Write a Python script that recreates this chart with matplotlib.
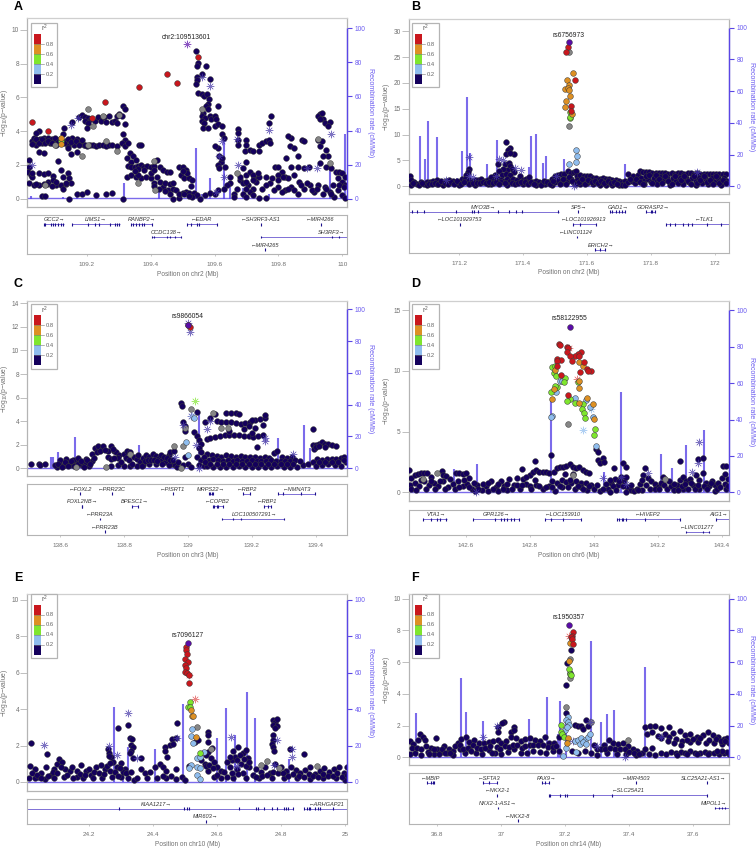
import matplotlib
matplotlib.use('Agg')
import matplotlib.pyplot as plt
from matplotlib.patches import Rectangle

plt.rcParams['font.family'] = ['Liberation Sans', 'DejaVu Sans']
plt.rcParams['mathtext.default'] = 'regular'

W, H = 756, 851
NAVY = '#14005c'
GREY_PT = '#868686'
RED = '#c9171d'
ORANGE = '#dd9024'
GREEN = '#7fe62e'
BLUE = '#8fbdee'
PURPLE = '#5a0ca8'
RECOMB = '#5a46e6'
AXIS_GREY = '#b4b4b4'
TEXT_GREY = '#707070'

# ---------- panel A ----------
A_TICKS = [109.2, 109.4, 109.6, 109.8, 110]
A_TICKLABELS = ['109.2', '109.4', '109.6', '109.8', '110']
A_YTICKS = [0, 2, 4, 6, 8, 10]
A_NAVY = [
    (109.543,8.75),(109.549,8.05),(109.546,7.85),(109.573,7.85),(109.546,7.2),(109.56,7.35),(109.585,7.1),(109.545,7.0),
    (109.543,6.8),(109.549,6.25),(109.56,6.2),(109.567,6.1),(109.575,6.2),(109.583,5.9),(109.58,5.6),(109.574,5.5),
    (109.58,5.3),(109.612,5.5),(109.565,5.1),(109.56,4.9),(109.57,4.8),(109.56,4.6),(109.568,4.5),(109.585,4.9),
    (109.59,4.7),(109.6,4.9),(109.605,4.7),(109.565,4.2),(109.58,4.2),(109.6,4.3),(109.61,4.4),(109.623,4.3),
    (109.625,3.8),(109.63,3.6),(109.61,3.0),(109.6,3.1),(109.615,2.5),(109.62,2.2),(109.625,2.4),(109.61,2.0),
    (109.615,1.8),(109.632,1.9),(109.65,1.3),(109.65,0.9),(109.64,0.8),(109.63,0.6),(109.66,0.3),(109.675,4.15),
    (109.673,3.9),(109.672,3.5),(109.675,3.2),(109.7,3.5),(109.7,3.2),(109.695,2.8),(109.71,2.9),(109.72,2.8),
    (109.74,3.2),(109.75,3.3),(109.76,3.4),(109.77,3.5),(109.775,3.3),(109.776,4.9),(109.772,4.5),(109.74,2.8),
    (109.725,1.2),(109.7,2.2),(109.69,1.8),(109.7,1.4),(109.71,1.6),(109.68,1.1),(109.69,0.9),(109.705,0.8),
    (109.72,0.6),(109.73,1.0),(109.71,0.4),(109.74,0.05),(109.76,0.05),(109.775,0.9),(109.76,1.3),(109.78,1.2),
    (109.79,1.9),(109.8,1.9),(109.81,1.6),(109.82,1.3),(109.83,1.2),(109.84,1.9),(109.85,1.4),(109.86,1.9),
    (109.825,2.4),(109.835,3.1),(109.84,3.6),(109.83,3.7),(109.85,3.0),(109.86,2.5),(109.875,3.5),(109.88,3.4),
    (109.865,1.0),(109.8,0.7),(109.82,0.5),(109.84,0.7),(109.86,0.3),(109.88,0.6),(109.9,0.8),(109.91,0.4),
    (109.88,1.8),(109.895,1.85),(109.93,5.0),(109.925,4.9),(109.935,5.05),(109.94,4.7),(109.93,4.7),(109.945,4.5),
    (109.96,4.55),(109.955,4.3),(109.925,3.5),(109.93,3.1),(109.935,3.4),(109.95,2.9),(109.955,2.5),(109.94,2.5),
    (109.93,2.1),(109.95,1.85),(109.965,1.8),(109.98,1.6),(109.99,1.6),(110.0,1.5),(110.01,1.3),(109.985,1.2),
    (110.0,1.0),(110.01,0.8),(109.97,0.8),(109.985,0.5),(110.0,0.2),(110.01,0.05),(109.96,0.4),(109.94,0.3),
    (109.925,0.8),(109.945,0.7),(109.975,0.1),
    # left side bands
    (109.02,2.3),(109.02,1.9),(109.016,1.6),(109.025,1.4),(109.03,1.3),(109.05,1.5),(109.065,1.45),(109.08,1.5),
    (109.095,1.35),(109.11,2.25),(109.12,1.7),(109.125,1.3),(109.14,1.5),(109.145,1.2),(109.018,0.9),(109.035,0.8),
    (109.05,0.8),(109.065,0.85),(109.08,1.0),(109.095,1.1),(109.105,0.8),(109.12,0.8),(109.135,0.85),(109.15,0.95),
    (109.06,0.15),(109.07,0.15),(109.145,0),(109.17,0.3),(109.185,0.3),(109.2,0.4),(109.23,0.2),(109.26,0.3),
    (109.28,0.35),(109.315,0.0),
    (109.03,3.4),(109.035,3.6),(109.04,3.2),(109.045,3.5),(109.05,4.0),(109.04,3.9),(109.055,3.55),(109.06,3.3),(109.065,3.6),
    (109.07,3.45),(109.078,3.6),(109.085,3.3),(109.09,3.55),(109.1,3.45),(109.105,3.2),(109.115,3.55),(109.125,3.8),(109.13,4.2),
    (109.135,3.4),(109.14,3.1),(109.145,3.5),(109.155,3.6),(109.16,3.2),(109.17,3.55),(109.18,3.3),(109.19,3.2),(109.2,3.1),
    (109.21,3.15),(109.22,3.15),(109.23,3.1),(109.24,3.15),(109.25,3.15),(109.26,3.1),(109.27,3.15),(109.28,3.15),(109.295,3.1),
    (109.05,2.75),(109.065,2.7),(109.15,2.65),(109.17,2.75),(109.155,4.55),(109.14,3.0),
    (109.175,4.85),(109.185,4.95),(109.195,4.85),(109.205,4.8),(109.215,4.7),(109.195,4.6),(109.205,4.5),(109.2,4.2),(109.225,4.6),
    (109.235,4.85),(109.245,4.6),(109.255,4.85),(109.26,4.55),(109.27,4.9),(109.28,4.55),(109.29,4.6),(109.295,4.9),
    (109.315,5.5),(109.32,5.3),(109.3,5.0),(109.31,4.9),(109.32,4.4),(109.295,4.45),(109.315,3.8),(109.32,3.5),(109.31,3.3),(109.32,3.1),
    (109.33,3.3),(109.365,3.2),(109.37,3.2),(109.335,2.7),(109.345,2.5),(109.325,2.4),(109.34,2.2),(109.355,2.3),
    (109.33,1.95),(109.34,1.9),(109.35,1.85),(109.36,1.95),(109.37,2.0),(109.38,1.9),(109.39,1.95),(109.4,1.85),(109.41,1.95),
    (109.42,2.3),(109.43,1.85),(109.44,1.7),(109.45,1.6),(109.46,1.6),
    (109.325,1.3),(109.34,1.4),(109.355,1.3),(109.37,1.25),(109.385,1.3),(109.4,1.2),(109.41,0.9),(109.42,1.3),(109.43,1.0),(109.44,0.7),
    (109.41,0.75),(109.425,0.6),(109.445,0.9),(109.46,0.85),(109.47,0.9),(109.455,0.5),(109.47,0.6),(109.48,0.5),(109.47,0.0),(109.49,0.05),
    (109.49,1.9),(109.5,1.9),(109.51,1.7),(109.495,1.4),(109.505,1.2),(109.52,1.2),(109.53,1.1),(109.525,0.75),(109.51,0.4),(109.5,0.35),
    (109.52,0.35),(109.535,0.35),(109.545,0.2),(109.53,0.1),(109.555,0.0),(109.57,0.2),(109.585,0.35),(109.6,0.3),(109.61,0.5),
]
A_EXTRA = [
    (109.03,3.25),(109.04,3.55),(109.05,3.3),(109.06,3.55),(109.07,3.3),(109.08,3.4),(109.09,3.3),(109.1,3.6),(109.11,3.35),(109.12,3.5),(109.13,3.3),(109.14,3.55),(109.15,3.35),
    (109.165,3.4),(109.175,3.2),(109.185,3.45),(109.195,3.15),(109.68,1.3),(109.7,1.0),(109.72,1.4),(109.74,1.3),(109.75,0.6),(109.76,0.8),(109.785,0.5),(109.8,1.4),(109.815,1.3),
    (109.83,0.6),(109.85,0.5),(109.87,0.8),(109.89,0.9),(109.905,0.5),(109.92,0.55),(109.95,0.6),(109.965,0.3),(109.99,0.8),(110.005,0.7),(109.69,0.3),(109.7,0.1),(109.72,0.2),
    (109.66,0.1),(109.67,0.6),(109.36,1.4),(109.38,1.7),(109.36,1.75),(109.4,1.5),(109.35,1.65),(109.41,1.7),(109.03,1.5),(109.04,0.85),(109.075,0.85),(109.09,0.75),(109.105,1.0),
    (109.125,0.55),(109.135,0.95),(109.445,0.45),(109.46,0.3),(109.49,0.3),(109.505,0.3),(109.52,0.15),(109.515,1.5),(109.5,1.65),(109.72,1.1),(109.735,1.5),(109.7,0.6),(109.8,1.1),(109.81,0.4),
]
A_GREY = [(109.203,5.3),(109.22,4.3),(109.185,2.55),(109.205,3.2),(109.26,3.4),(109.295,2.8),(109.302,4.95),(109.362,0.9),(109.415,0.5),
          (109.41,2.25),(109.07,0.8),(109.1,3.2),(109.25,4.9),(109.56,5.3),(109.67,1.5),(109.925,3.55),(109.96,2.1)]
A_RED = [(109.028,4.55),(109.08,4.0),(109.218,4.75),(109.257,5.7),(109.363,6.6),(109.452,7.4),(109.484,6.85),(109.548,8.4)]
A_ORANGE = [(109.12,3.6),(109.12,3.25)]
A_GREEN = [(109.12,3.4)]
A_BLUE = []
A_STARS = [(109.585,6.65),(109.56,7.2),(109.03,2.0),(109.15,4.35),(109.173,4.8),(109.77,4.05),(109.67,3.55),(109.625,3.4),(109.675,2.0),
           (109.89,1.8),(109.92,1.8),(109.615,2.55),(109.965,3.8),(109.605,0.4),(109.63,1.3)]
A_LEAD = (109.513, 9.15)
A_RECOMB_X = [109.025,109.125,109.17,109.317,109.425,109.543,109.56,109.585,109.63,109.65,109.69,109.77,109.96,110.007]
A_RECOMB_Y = [1.5,1,2,9,4,30,3,12,34,10,6,3,18,38]
A_GENES = ['GCC2→','LIMS1→','RANBP2→','←EDAR','←SH3RF3-AS1','←MIR4266','CCDC138→','SH3RF3→','←MIR4265']
A_GENE_LABEL_X = [109.098,109.229,109.372,109.56,109.744,109.93,109.45,109.967,109.758]
A_GENE_START = [109.066,109.153,109.338,109.513,109.746,109.932,109.404,109.746,109.759]
A_GENE_END = [109.129,109.304,109.403,109.607,109.746,109.932,109.494,110.016,109.759]
A_GENE_ROW = [0,0,0,0,0,0,1,1,2]
A_EXONS = [(109.066,0),(109.07,0),(109.087,0),(109.095,0),(109.1,0),(109.11,0),(109.118,0),(109.127,0),(109.153,0),(109.205,0),(109.226,0),
           (109.238,0),(109.273,0),(109.289,0),(109.296,0),(109.302,0),(109.338,0),(109.346,0),(109.355,0),(109.365,0),(109.372,0),(109.38,0),(109.403,0),
           (109.513,0),(109.525,0),(109.544,0),(109.55,0),(109.607,0),(109.746,0),(109.932,0),(109.404,1),(109.41,1),(109.45,1),(109.46,1),(109.475,1),(109.494,1),
           (109.746,1),(109.967,1),(109.99,1),(109.759,2)]

# ---------- panel B ----------
B_TICKS = [171.2, 171.4, 171.6, 171.8, 172]
B_TICKLABELS = ['171.2', '171.4', '171.6', '171.8', '172']
B_YTICKS = [0, 5, 10, 15, 20, 25, 30]
B_NAVY = [
    (171.347,8.6),(171.358,7.5),(171.353,7.0),(171.371,6.3),(171.348,6.3),(171.36,6.4),(171.322,4.3),(171.345,4.4),(171.355,4.6),
    (171.36,3.9),(171.365,3.4),(171.372,2.8),(171.35,3.1),(171.338,3.3),(171.325,3.0),(171.312,2.2),(171.335,2.2),(171.348,2.4),(171.36,2.2),(171.23,3.4),(171.228,2.7),(171.222,2.1),
    (171.047,1.9),(171.05,1.3),(171.06,0.8),(171.07,0.5),(171.08,0.9),(171.09,0.4),(171.1,0.8),(171.11,0.9),(171.12,1.1),(171.13,1.2),(171.14,0.7),(171.15,0.5),
    (171.16,1.1),(171.17,1.3),(171.18,1.1),(171.19,0.6),(171.2,0.9),(171.21,1.5),(171.22,1.4),(171.23,1.2),(171.24,1.0),(171.25,1.2),(171.26,1.3),(171.27,1.5),
    (171.28,1.1),(171.29,1.3),(171.3,1.8),(171.31,1.2),(171.32,1.6),(171.33,1.3),(171.34,1.1),(171.35,1.4),(171.36,1.1),(171.37,1.5),(171.38,1.2),(171.39,2.0),
    (171.4,1.3),(171.41,1.5),(171.42,1.8),(171.43,0.9),(171.44,1.0),(171.45,0.8),(171.46,0.7),(171.47,0.4),(171.48,0.9),(171.49,1.4),(171.5,1.9),(171.51,2.2),
    (171.52,2.4),(171.53,2.3),(171.54,2.9),(171.55,2.6),(171.56,2.8),(171.565,3.0),(171.57,2.0),(171.58,2.1),(171.59,1.9),(171.6,1.9),(171.61,1.9),(171.62,1.6),
    (171.63,1.6),(171.64,1.4),(171.65,1.6),(171.66,1.4),(171.67,1.5),(171.68,1.2),(171.69,1.2),(171.7,1.0),(171.71,0.8),(171.72,1.0),(171.73,2.3),(171.745,2.0),(171.76,2.2),
    (171.765,2.9),(171.775,2.85),(171.785,2.8),(171.795,2.7),(171.805,2.6),(171.815,2.65),(171.825,2.6),(171.835,2.55),(171.845,2.5),(171.855,2.45),(171.865,2.5),(171.875,2.45),(171.885,2.5),
    (171.895,2.5),(171.905,2.4),(171.915,2.5),(171.925,2.5),(171.935,2.45),(171.945,2.5),(171.955,2.4),(171.965,2.45),(171.975,2.45),(171.985,2.4),(171.995,2.45),(172.005,2.4),(172.015,2.45),(172.025,2.3),(172.035,2.3),
    (171.49,0.3),(171.5,0.8),(171.51,1.2),(171.52,0.7),(171.53,1.4),(171.54,1.0),(171.55,1.5),(171.56,0.7),(171.57,1.2),(171.58,0.5),(171.59,1.1),(171.6,0.6),(171.61,1.0),(171.62,0.4),(171.63,0.9),(171.64,0.3),
    (171.65,0.9),(171.66,0.3),(171.67,0.8),(171.68,0.3),(171.69,0.7),(171.7,0.2),(171.71,0.3),(171.72,0.2),(171.73,0.8),(171.74,1.0),(171.75,0.6),(171.76,1.2),(171.77,1.6),(171.78,1.1),(171.79,1.5),(171.8,0.9),
    (171.81,1.6),(171.82,1.0),(171.83,1.8),(171.84,1.2),(171.85,1.7),(171.86,0.8),(171.87,1.6),(171.88,1.1),(171.89,1.7),(171.9,0.9),(171.91,1.6),(171.92,0.8),(171.93,1.7),(171.94,1.1),(171.95,1.6),(171.96,0.7),
    (171.97,1.6),(171.98,1.0),(171.99,1.7),(172.0,0.8),(172.01,1.6),(172.02,1.1),(172.03,1.6),(172.04,1.0),(171.78,0.4),(171.82,0.4),(171.86,0.3),(171.9,0.4),(171.94,0.3),(171.98,0.4),(172.02,0.3),
    (171.05,0.3),(171.1,0.2),(171.15,0.2),(171.2,0.3),(171.25,0.3),(171.3,0.4),(171.35,0.3),(171.4,0.4),(171.44,0.3),(171.33,0.9),(171.29,0.5),(171.23,0.5),(171.13,0.4),
]
B_EXTRA = [
    (171.055,0.6),(171.075,0.3),(171.085,0.7),(171.105,0.4),(171.115,0.5),(171.125,0.7),(171.135,0.4),(171.145,1.0),(171.155,0.7),(171.165,0.4),(171.175,0.8),(171.185,0.4),(171.195,1.0),(171.205,0.5),(171.215,0.8),
    (171.245,0.6),(171.255,0.7),(171.265,0.6),(171.275,0.8),(171.285,0.7),(171.295,0.9),(171.305,0.6),(171.315,0.8),(171.325,0.5),(171.345,0.7),(171.365,0.7),(171.375,0.4),(171.385,0.7),(171.395,0.9),(171.405,0.8),
    (171.415,0.5),(171.425,0.9),(171.435,0.5),(171.455,0.3),(171.465,1.1),(171.475,0.8),(171.485,0.4),(171.495,1.1),(171.515,0.5),(171.525,1.5),(171.535,0.5),(171.545,1.8),(171.555,1.1),(171.565,0.4),(171.575,0.8),
    (171.585,1.4),(171.595,0.4),(171.605,1.2),(171.615,0.8),(171.625,1.1),(171.635,0.6),(171.645,1.0),(171.655,0.6),(171.665,1.1),(171.675,0.6),(171.685,0.9),(171.695,0.4),(171.735,1.5),(171.755,1.5),(171.765,0.8),
    (171.775,0.5),(171.785,2.0),(171.795,2.1),(171.805,0.7),(171.815,2.1),(171.825,1.4),(171.835,0.6),(171.845,2.0),(171.855,1.0),(171.865,0.5),(171.875,2.0),(171.885,0.7),(171.895,1.2),(171.905,2.0),(171.915,1.1),
    (171.925,0.5),(171.935,2.0),(171.945,0.7),(171.955,1.2),(171.965,2.0),(171.975,0.8),(171.985,1.3),(171.995,0.5),(172.005,2.0),(172.015,0.7),(172.025,1.3),(172.035,0.6),
]
B_GREY = [(171.545,25.9),(171.545,11.7)]
B_RED = [(171.542,26.9),(171.536,25.9),(171.562,20.5),(171.549,15.6),(171.55,14.5)]
B_ORANGE = [(171.557,21.9),(171.539,20.6),(171.544,19.6),(171.533,18.8),(171.542,19.0),(171.544,18.6),(171.546,17.4),(171.534,16.5),(171.532,15.4),(171.553,13.9)]
B_GREEN = [(171.546,14.3),(171.546,13.2),(171.548,13.5)]
B_BLUE = [(171.567,7.0),(171.568,5.9),(171.565,4.8),(171.545,4.3)]
B_STARS = [(171.232,5.7),(171.325,5.3),(171.338,5.0),(171.395,3.2),(171.375,3.5),(171.505,2.0),(171.23,2.0),(171.245,1.8),(171.16,1.2),(171.315,1.9),(171.56,0),(171.945,2.7)]
B_LEAD = (171.543, 27.9)
B_RECOMB_X = [171.077,171.093,171.103,171.132,171.194,171.208,171.225,171.233,171.288,171.318,171.42,171.425,171.44,171.464,171.471,171.528,171.719]
B_RECOMB_Y = [32,17,41,31,5,22,56,21,14,29,12,32,33,15,19,17,14]
B_GENES = ['MYO3B→','SP5→','GAD1→','GORASP2→','←LOC101929753','←LOC101926913','←TLK1','←LINC01124','ERICH2→']
B_GENE_LABEL_X = [171.275,171.575,171.698,171.807,171.201,171.591,171.967,171.565,171.643]
B_GENE_START = [171.042,171.573,171.673,171.786,171.202,171.557,171.849,171.57,171.627]
B_GENE_END = [171.512,171.573,171.718,171.812,171.202,171.628,172.044,171.57,171.656]
B_GENE_ROW = [0,0,0,0,1,1,1,2,3]
B_EXONS = [(171.054,0),(171.07,0),(171.09,0),(171.192,0),(171.241,0),(171.247,0),(171.26,0),(171.322,0),(171.355,0),(171.379,0),(171.397,0),(171.51,0),
           (171.573,0),(171.673,0),(171.68,0),(171.69,0),(171.7,0),(171.71,0),(171.718,0),(171.786,0),(171.8,0),(171.805,0),(171.812,0),(171.202,1),(171.557,1),(171.58,1),(171.628,1),
           (171.849,1),(171.86,1),(171.875,1),(171.9,1),(171.915,1),(171.93,1),(171.975,1),(172.02,1),(171.57,2),(171.627,3),(171.64,3),(171.656,3)]

# ---------- panel C ----------
C_TICKS = [138.6, 138.8, 139, 139.2, 139.4]
C_TICKLABELS = ['138.6', '138.8', '139', '139.2', '139.4']
C_YTICKS = [0, 2, 4, 6, 8, 10, 12, 14]
C_NAVY = [
    (138.509,0.35),(138.535,0.35),(138.537,0.3),(138.554,0.35),(138.59,0.1),(138.6,0.3),(138.61,0.2),(138.62,0.45),(138.63,0.3),(138.64,0.5),(138.65,0.7),(138.66,0.4),(138.67,0.3),(138.68,0.5),(138.69,0.2),(138.7,0.6),
    (138.6,0.7),(138.62,0.8),(138.64,0.7),(138.655,0.9),(138.68,0.8),(138.7,1.2),(138.71,1.75),(138.72,1.85),(138.73,1.6),(138.735,1.85),(138.75,1.5),(138.76,1.9),(138.77,1.45),(138.775,1.35),(138.785,1.1),(138.75,1.0),(138.76,0.75),(138.78,0.85),
    (138.8,1.25),(138.81,1.5),(138.82,1.35),(138.83,1.0),(138.84,0.75),(138.85,0.5),(138.86,0.9),(138.87,1.1),(138.88,0.95),(138.89,1.2),(138.9,1.05),(138.91,0.85),(138.92,0.7),(138.93,0.55),(138.94,1.15),(138.95,0.35),
    (138.76,0.2),(138.78,0.25),(138.8,0.2),(138.82,0.2),(138.84,0.2),(138.86,0.3),(138.88,0.4),(138.9,0.35),(138.92,0.4),(138.94,0.3),(138.96,0.3),(138.965,0.1),(138.97,0.55),(138.985,0.3),(138.99,1.0),(139.0,0.4),(139.01,0.15),
    (138.945,1.4),(138.958,1.45),(138.979,5.5),(138.983,5.25),(138.985,3.9),(138.99,3.6),(138.99,3.2),(139.02,3.1),(139.028,4.75),(139.03,2.7),(139.035,2.4),(139.04,2.1),(139.035,1.7),(139.04,1.35),(139.03,1.0),(139.04,0.7),(139.035,0.3),(139.05,0.2),
    (139.055,3.9),(139.07,4.3),(139.085,4.6),(139.09,4.05),(139.105,3.95),(139.12,3.9),(139.135,3.9),(139.15,3.85),(139.165,3.8),(139.18,3.85),(139.195,3.9),(139.21,4.1),(139.225,4.2),(139.24,4.25),(139.24,4.5),(139.12,4.65),(139.135,4.7),(139.15,4.65),(139.16,4.6),(139.2,4.1),
    (139.06,2.5),(139.07,2.55),(139.085,2.65),(139.1,2.75),(139.115,2.8),(139.13,2.85),(139.145,2.85),(139.16,2.8),(139.175,2.75),(139.19,2.7),(139.205,2.65),(139.22,2.7),(139.235,2.8),(139.215,1.8),(139.175,3.3),(139.19,3.6),(139.21,3.4),(139.235,3.7),(139.13,3.2),(139.2,3.0),
    (139.06,1.2),(139.075,1.1),(139.09,1.05),(139.105,1.0),(139.12,1.1),(139.135,1.05),(139.15,1.0),(139.165,1.05),(139.18,0.95),(139.195,1.0),(139.21,0.95),(139.225,0.9),(139.24,0.95),(139.255,0.9),(139.27,1.3),(139.28,1.5),(139.295,0.95),(139.31,0.9),(139.325,1.0),
    (139.065,0.7),(139.08,0.75),(139.095,0.7),(139.11,0.65),(139.125,0.7),(139.14,0.65),(139.155,0.7),(139.17,0.65),(139.185,0.6),(139.2,0.7),(139.215,0.6),(139.23,0.65),(139.245,0.6),(139.26,0.7),(139.275,0.65),(139.29,0.6),(139.305,0.65),(139.32,0.6),(139.335,0.7),
    (139.06,0.2),(139.08,0.15),(139.1,0.1),(139.12,0.15),(139.14,0.15),(139.16,0.2),(139.18,0.1),(139.2,0.1),(139.22,0.15),(139.24,0.1),(139.26,0.1),(139.28,0.2),(139.3,0.1),(139.32,0.15),(139.34,0.1),
    (139.393,3.3),(139.39,2.0),(139.4,1.95),(139.41,2.1),(139.42,2.2),(139.43,2.05),(139.44,2.05),(139.45,1.95),(139.465,1.85),(139.395,1.6),(139.405,0.8),(139.42,0.7),(139.435,0.75),(139.45,0.8),(139.465,0.75),(139.48,0.9),(139.49,1.0),
    (139.36,0.3),(139.375,0.4),(139.39,0.5),(139.4,0.2),(139.42,0.3),(139.44,0.4),(139.46,0.3),(139.48,0.2),(139.495,0.5),
]
C_EXTRA = [
    (138.585,0.25),(138.595,0.4),(138.605,0.15),(138.615,0.55),(138.625,0.2),(138.635,0.65),(138.645,0.2),(138.655,0.35),(138.665,0.65),(138.675,0.15),(138.685,0.7),(138.695,0.4),(138.705,0.9),(138.715,1.4),(138.725,1.5),
    (138.74,1.55),(138.765,1.6),(138.77,0.9),(138.79,0.5),(138.805,0.9),(138.815,0.7),(138.825,0.4),(138.845,1.1),(138.855,0.2),(138.865,0.6),(138.875,0.7),(138.885,0.7),(138.895,0.7),(138.905,0.6),(138.915,1.1),
    (138.925,1.0),(138.935,0.9),(138.945,0.7),(138.955,0.7),(139.05,1.0),(139.055,0.5),(139.07,0.4),(139.09,0.4),(139.11,0.4),(139.13,0.4),(139.15,0.4),(139.17,0.4),(139.19,0.35),(139.21,0.35),(139.23,0.35),(139.25,0.35),
    (139.27,0.35),(139.29,0.35),(139.31,0.35),(139.33,0.4),(139.35,0.6),(139.41,0.5),(139.43,0.5),(139.45,0.55),(139.47,0.5),(139.49,0.7),(139.4,1.8),(139.41,1.85),(139.43,1.8),
]
C_GREY = [(139.01,5.0),(138.958,1.85),(138.985,1.9),(138.98,0.05),(139.08,4.7),(139.105,3.4),(139.125,3.4),(138.99,3.4),(138.82,1.2),(138.65,0.1),(138.745,0.1)]
C_RED = [(139.002,12.15),(139.007,11.95)]
C_ORANGE = []
C_GREEN = []
C_BLUE = [(139.018,4.25),(138.995,2.25),(139.002,1.1)]
C_STARS = [(139.0,12.35),(139.007,11.6),(139.035,0.0),(138.96,1.0),(138.985,3.7),(139.07,4.0),(139.06,3.3),(139.24,2.6),(139.24,2.35),(139.33,1.2),(139.01,4.4),(139.025,2.0)]
C_STAR_GREEN = [(139.023,5.75)]
C_STAR_BLUE = [(139.014,4.4)]
C_LEAD = (139.0, 12.2)
C_RECOMB_X = [138.572,138.578,138.595,138.647,138.848,139.035,139.282,139.364,139.383]
C_RECOMB_Y = [7,7,10.5,19.5,14.7,34.6,19,27,12.5]
C_GENES = ['←FOXL2','←PRR23C','←PISRT1','MRPS22→','←RBP2','←NMNAT3','FOXL2NB→','BPESC1→','←COPB2','←RBP1','←PRR23A','LOC100507291→','←PRR23B']
C_GENE_LABEL_X = [138.663,138.762,138.952,139.072,139.185,139.341,138.671,138.835,139.093,139.247,138.725,139.208,138.74]
C_GENE_START = [138.664,138.763,138.952,139.065,139.174,139.282,138.67,138.825,139.078,139.237,138.725,139.108,138.74]
C_GENE_END = [138.664,138.763,138.952,139.078,139.195,139.398,138.67,138.845,139.11,139.26,138.725,139.302,138.74]
C_GENE_ROW = [0,0,0,0,0,0,1,1,1,1,2,2,3]
C_EXONS = [(138.664,0),(138.763,0),(138.952,0),(139.065,0),(139.07,0),(139.075,0),(139.078,0),(139.174,0),(139.195,0),(139.282,0),(139.298,0),(139.355,0),(139.398,0),
           (138.67,1),(138.668,1),(138.825,1),(138.845,1),(139.078,1),(139.083,1),(139.09,1),(139.095,1),(139.11,1),(139.237,1),(139.25,1),(139.26,1),(138.725,2),(139.108,2),(139.14,2),(139.165,2),(139.3,2),(138.74,3)]

# ---------- panel D ----------
D_TICKS = [142.6, 142.8, 143, 143.2, 143.4]
D_TICKLABELS = ['142.6', '142.8', '143', '143.2', '143.4']
D_YTICKS = [0, 5, 10, 15]
D_NAVY = [
    (142.868,3.1),(142.815,2.6),(143.006,3.6),(143.014,3.35),(143.014,2.7),(143.03,2.8),(143.02,2.4),(143.033,2.5),(143.09,2.4),(143.102,2.1),(143.063,2.0),(143.269,2.6),(143.326,2.75),(143.342,2.8),(143.405,2.2),(143.415,2.15),
    (142.424,1.8),(142.43,1.2),(142.44,1.4),(142.45,1.5),(142.46,1.55),(142.47,1.6),(142.48,1.6),(142.49,1.3),(142.525,1.75),(142.53,1.4),(142.54,1.35),(142.57,1.55),(142.58,1.6),(142.59,1.5),(142.6,1.6),(142.61,1.2),
    (142.425,0.6),(142.44,0.8),(142.455,0.5),(142.47,0.9),(142.485,0.6),(142.5,0.75),(142.515,0.5),(142.53,0.9),(142.545,0.4),(142.56,0.7),(142.575,0.9),(142.59,0.5),(142.605,0.7),(142.62,0.3),(142.635,0.6),(142.65,0.2),
    (142.665,0.5),(142.68,0.9),(142.695,0.4),(142.71,0.95),(142.72,0.5),(142.735,1.1),(142.75,0.6),(142.76,1.2),(142.775,1.9),(142.78,1.1),(142.79,0.7),(142.8,1.4),(142.81,1.7),(142.82,1.8),(142.83,1.7),(142.84,1.7),(142.85,1.7),(142.86,1.6),
    (142.875,1.7),(142.885,2.0),(142.895,2.1),(142.905,2.1),(142.915,2.2),(142.925,2.3),(142.935,2.1),(142.945,2.0),(142.955,2.1),(142.965,1.8),(142.975,1.7),(142.985,1.6),(142.87,0.9),(142.885,0.8),(142.9,1.0),(142.915,0.85),(142.93,0.8),(142.945,0.9),(142.96,0.8),(142.975,0.75),(142.99,0.6),
    (142.8,0.5),(142.82,0.6),(142.84,0.3),(142.86,0.5),(142.88,0.1),(142.9,0.4),(142.92,0.4),(142.94,0.3),(142.96,0.4),(142.98,0.2),(143.0,0.3),(143.02,0.1),(143.01,0.6),(142.77,0.3),(142.73,0.2),(142.7,0.1),(142.67,0.1),(142.63,0.1),
    (143.045,0.3),(143.055,0.8),(143.065,1.1),(143.075,0.6),(143.085,1.3),(143.095,0.9),(143.105,0.4),(143.115,0.2),(143.125,0.1),(143.135,0.3),(143.145,0.7),(143.155,1.4),(143.16,2.0),(143.17,1.2),(143.18,0.9),(143.19,0.7),
    (143.2,0.4),(143.21,0.8),(143.22,0.6),(143.23,0.3),(143.24,0.5),(143.25,0.2),(143.26,0.6),(143.27,1.0),(143.28,1.3),(143.29,0.9),(143.3,1.1),(143.31,0.6),(143.32,1.4),(143.33,1.0),(143.34,1.6),(143.35,0.8),(143.36,0.5),(143.37,0.9),(143.38,0.6),(143.39,0.8),(143.4,1.2),(143.41,0.7),(143.42,1.1),
    (143.05,0.0),(143.1,0.05),(143.15,0.15),(143.28,0.3),(143.33,0.3),(143.38,0.1),(143.415,0.3),
]
D_EXTRA = [
    (142.43,0.3),(142.445,0.2),(142.46,1.0),(142.475,0.3),(142.49,0.9),(142.505,0.3),(142.52,0.9),(142.535,0.3),(142.55,1.1),(142.565,0.3),(142.58,0.4),(142.595,1.0),(142.61,0.4),(142.625,0.8),(142.64,0.3),(142.655,0.7),
    (142.67,0.8),(142.685,0.3),(142.7,0.7),(142.715,0.3),(142.73,0.7),(142.745,0.3),(142.76,0.6),(142.775,0.6),(142.79,1.3),(142.805,0.3),(142.815,1.0),(142.83,0.5),(142.85,0.4),(142.87,0.4),(142.895,0.5),(142.91,1.5),(142.925,1.0),(142.935,1.5),
    (142.95,0.5),(142.965,0.25),(142.985,0.5),(143.03,0.3),(143.04,0.7),(143.05,1.0),(143.06,0.5),(143.07,0.2),(143.08,0.9),(143.09,0.5),(143.1,1.3),(143.115,0.6),(143.14,0.2),(143.15,1.0),(143.165,0.6),(143.175,0.3),
    (143.19,0.3),(143.205,0.3),(143.215,1.3),(143.235,0.9),(143.25,0.7),(143.265,0.2),(143.275,0.5),(143.285,0.7),(143.295,0.3),(143.305,0.8),(143.315,0.3),(143.325,0.6),(143.345,0.5),(143.355,0.25),(143.365,0.75),(143.385,0.25),(143.395,0.4),(143.41,1.5),(143.42,0.5),
]
D_GREY = [(142.919,5.65),(142.466,1.07),(142.51,1.6),(142.935,1.4),(143.224,1.07)]
D_RED = [(142.892,12.2),(142.895,12.1),(142.918,12.0),(142.921,11.9),(142.916,11.6),(142.959,11.6),(142.951,11.4),(142.941,11.2),(142.927,11.2),(142.955,11.2),(142.885,11.0),(142.899,10.9),(142.886,10.85),(142.933,10.8),
          (142.97,10.7),(142.885,10.4),(142.979,10.2),(142.993,10.0),(142.982,10.0),(142.957,9.9),(142.898,9.7),(142.92,8.0)]
D_ORANGE = [(142.954,10.7),(142.965,10.4),(142.88,10.1),(142.955,9.2),(142.955,8.6),(142.876,8.5),(142.87,7.7),(142.979,7.8),(142.954,7.4),(142.999,7.3),(143.001,6.05)]
D_GREEN = [(142.87,10.3),(142.878,10.4),(142.875,9.8),(142.881,9.6),(142.911,9.45),(142.907,9.1),(142.951,9.1),(142.886,8.7),(142.878,8.8),(142.868,8.3),(142.925,7.7),(142.918,7.5),(142.941,7.4),(142.967,7.25),
            (142.962,6.9),(142.97,6.5),(142.974,6.1),(143.005,5.2),(143.002,4.7)]
D_BLUE = [(142.894,9.2),(142.901,9.2),(142.883,8.3),(142.941,7.75),(142.87,6.3),(142.868,6.2),(142.977,7.6),(142.989,7.0),(142.997,6.2),(143.006,3.85)]
D_STARS = [(143.33,4.15),(143.326,2.45),(143.308,1.65),(143.102,0.7),(142.633,0.0),(143.17,1.55),(143.085,1.3),(143.03,1.2)]
D_STAR_RED = [(142.949,9.3),(142.923,11.9)]
D_STAR_BLUE = [(142.966,5.1),(142.993,6.85)]
D_LEAD = (142.925, 13.6)
D_RECOMB_X = [142.562,142.635,142.866,142.889,143.031,143.086,143.21,143.244,143.288,143.346]
D_RECOMB_Y = [12.6,15.4,50,6,11,55,21,13.5,26,34]
D_GENES = ['VTA1→','GPR126→','←LOC153910','←HIVEP2','AIG1→','←LINC01277']
D_GENE_LABEL_X = [142.508,142.696,142.904,143.17,143.389,143.323]
D_GENE_START = [142.467,142.623,142.849,143.073,143.381,143.287]
D_GENE_END = [142.542,142.768,142.959,143.269,143.422,143.36]
D_GENE_ROW = [0,0,0,0,0,1]
D_EXONS = [(142.467,0),(142.49,0),(142.51,0),(142.52,0),(142.54,0),(142.623,0),(142.69,0),(142.71,0),(142.72,0),(142.73,0),(142.74,0),(142.75,0),(142.768,0),(142.849,0),(142.865,0),(142.905,0),(142.959,0),
           (143.073,0),(143.08,0),(143.087,0),(143.09,0),(143.1,0),(143.16,0),(143.269,0),(143.381,0),(143.287,1),(143.34,1),(143.36,1)]

# ---------- panel E ----------
E_TICKS = [24.2, 24.4, 24.6, 24.8, 25]
E_TICKLABELS = ['24.2', '24.4', '24.6', '24.8', '25']
E_YTICKS = [0, 2, 4, 6, 8, 10]
E_NAVY = [
    (24.017,2.16),(24.069,1.54),(24.29,2.95),(24.322,3.15),(24.327,2.4),(24.332,2.35),(24.33,2.05),(24.338,1.9),(24.33,1.7),(24.327,1.6),(24.335,1.3),(24.36,1.33),
    (24.473,3.26),(24.459,2.35),(24.47,2.4),(24.452,2.05),(24.463,2.1),(24.437,1.95),(24.437,1.7),(24.442,1.35),(24.572,2.77),(24.572,2.6),(24.572,2.2),(24.582,1.85),(24.572,1.65),
    (24.775,3.4),(24.78,3.3),(24.785,3.45),(24.775,3.15),(24.785,3.1),(24.78,2.95),(24.774,2.6),(24.774,2.3),(24.772,2.1),(24.773,1.9),(24.778,1.7),(24.826,1.8),(24.872,1.54),
    (24.015,0.9),(24.03,0.7),(24.04,0.3),(24.05,0.5),(24.065,0.8),(24.08,0.4),(24.09,0.7),(24.1,1.0),(24.105,1.25),(24.115,1.1),(24.125,0.7),(24.14,0.6),(24.16,0.3),(24.175,0.95),(24.19,0.6),(24.205,0.4),(24.22,0.85),(24.235,0.95),(24.25,0.7),
    (24.258,1.8),(24.262,1.6),(24.268,1.35),(24.275,1.1),(24.285,0.8),(24.3,1.05),(24.31,0.7),(24.01,0.2),(24.03,0.2),(24.06,0.15),(24.09,0.2),(24.12,0.3),(24.15,0.2),(24.18,0.2),(24.21,0.2),(24.24,0.2),(24.27,0.3),(24.3,0.3),
    (24.32,0.2),(24.34,0.1),(24.36,0.7),(24.375,0.5),(24.39,0.55),(24.405,0.8),(24.42,1.0),(24.43,0.85),(24.44,0.6),(24.455,0.35),(24.47,0.7),(24.49,0.3),(24.35,0.2),(24.38,0.2),(24.41,0.2),(24.44,0.2),(24.47,0.15),(24.5,0.1),(24.51,0.9),
    (24.55,1.2),(24.56,1.0),(24.565,1.5),(24.58,1.3),(24.59,1.1),(24.6,0.8),(24.61,0.6),(24.57,0.6),(24.59,0.3),(24.61,0.2),(24.63,0.3),(24.64,0.8),(24.645,1.2),(24.65,1.7),(24.655,1.4),(24.665,1.9),(24.68,1.6),(24.69,1.75),(24.695,1.3),
    (24.63,1.1),(24.66,0.7),(24.68,0.5),(24.7,0.8),(24.72,0.7),(24.735,0.55),(24.75,0.8),(24.765,0.5),(24.78,1.0),(24.8,0.8),(24.815,0.6),(24.83,0.85),(24.845,0.65),(24.86,0.5),(24.875,0.65),(24.89,0.85),(24.905,0.45),(24.92,0.6),
    (24.935,0.75),(24.95,0.55),(24.965,0.7),(24.98,0.85),(24.995,0.5),(25.005,0.8),(24.65,0.2),(24.69,0.2),(24.73,0.2),(24.77,0.2),(24.81,0.2),(24.85,0.2),(24.89,0.15),(24.93,0.2),(24.97,0.2),(25.0,0.1),(24.43,0.35),(24.53,2.2),(24.54,2.3),
]
E_EXTRA = [
    (24.02,0.5),(24.035,0.4),(24.05,0.2),(24.07,0.35),(24.085,0.55),(24.1,0.5),(24.11,0.8),(24.13,0.4),(24.145,0.8),(24.16,0.6),(24.17,0.45),(24.185,0.4),(24.2,0.7),(24.215,0.55),(24.23,0.5),(24.245,0.45),(24.255,0.9),
    (24.265,0.6),(24.28,0.55),(24.29,0.35),(24.305,0.55),(24.315,0.5),(24.33,0.55),(24.295,0.75),(24.265,1.05),(24.26,1.45),(24.64,1.4),(24.66,1.2),(24.67,1.5),(24.675,1.0),(24.685,1.25),(24.69,0.9),(24.7,1.1),(24.71,0.4),
    (24.72,0.3),(24.74,0.35),(24.755,0.4),(24.775,0.55),(24.79,0.5),(24.805,0.5),(24.82,0.35),(24.835,0.45),(24.855,0.35),(24.87,0.3),(24.885,0.45),(24.9,0.35),(24.915,0.3),(24.93,0.45),(24.945,0.35),(24.96,0.35),(24.975,0.5),(24.99,0.3),(25.005,0.4),
    (24.565,0.9),(24.575,0.95),(24.585,0.75),(24.6,0.4),(24.62,0.55),(24.645,0.5),(24.665,0.45),
]
E_GREY = [(24.536,3.0),(24.736,0.92),(24.754,1.17),(24.792,0.75),(24.91,0.88),(24.58,1.8)]
E_RED = [(24.502,7.44),(24.502,7.25),(24.505,7.03),(24.499,6.74),(24.507,6.6),(24.5,6.43),(24.502,6.25),(24.499,6.07),(24.505,5.98),(24.512,5.88),(24.511,5.45)]
E_ORANGE = [(24.518,3.96),(24.52,3.63),(24.523,3.63),(24.534,2.45)]
E_GREEN = [(24.515,4.4),(24.507,4.14),(24.515,4.1),(24.547,1.6)]
E_BLUE = [(24.522,2.9),(24.518,2.53),(24.525,2.12),(24.536,1.3),(24.557,1.67),(24.546,1.4),(24.517,0.93),(24.513,0.75),(24.536,0.85),(24.546,0.75),(24.536,0.38),(24.546,0.15)]
E_STARS = [(24.059,2.05),(24.322,3.8),(24.261,2.0),(24.475,2.4),(24.642,2.5),(24.786,2.3),(24.833,1.8),(24.833,1.4),(24.776,0.93),(24.288,1.46),(24.348,1.33),(24.66,0.9)]
E_STAR_RED = [(24.53,4.58),(24.513,5.86)]
E_LEAD = (24.507, 7.63)
E_RECOMB_X = [24.278,24.304,24.322,24.405,24.493,24.599,24.628,24.654,24.693,24.718,24.823]
E_RECOMB_Y = [41.4,5,19,18,43,24.4,40.5,26,49.6,35,12.5]
E_GENES = ['KIAA1217→','←ARHGAP21','MIR603→']
E_GENE_LABEL_X = [24.411,24.943,24.562]
E_GENE_START = [24.006,24.872,24.564]
E_GENE_END = [24.836,25.007,24.564]
E_GENE_ROW = [0,0,1]
E_EXONS = [(24.294,0),(24.495,0),(24.505,0),(24.512,0),(24.667,0),(24.72,0),(24.728,0),(24.745,0),(24.77,0),(24.785,0),(24.81,0),(24.815,0),(24.82,0),(24.835,0),(24.872,0),(24.88,0),(24.885,0),(24.89,0),(24.905,0),(24.915,0),(24.92,0),(24.96,0),(24.564,1)]

# ---------- panel F ----------
F_TICKS = [36.8, 37, 37.2, 37.4, 37.6]
F_TICKLABELS = ['36.8', '37', '37.2', '37.4', '37.6']
F_YTICKS = [0, 2, 4, 6, 8, 10]
F_NAVY = [
    (37.219,6.76),(37.205,5.92),(37.214,5.3),(37.201,4.54),(37.203,2.77),(37.229,2.04),(37.24,1.95),(37.25,1.95),(37.27,1.97),(37.266,2.35),(37.255,1.8),
    (37.008,2.25),(37.002,2.15),(36.991,1.93),(36.991,1.62),(37.039,1.93),(37.031,1.6),(37.04,1.75),(36.747,1.5),(36.755,1.25),(36.795,1.24),
    (36.715,1.0),(36.725,0.85),(36.74,1.1),(36.76,1.1),(36.78,0.6),(36.8,0.5),(36.82,0.7),(36.835,0.5),(36.85,0.4),(36.865,0.9),(36.875,1.15),(36.89,1.25),(36.9,0.95),(36.915,1.1),(36.93,0.9),(36.945,0.9),(36.96,0.95),(36.975,1.0),(36.99,1.1),
    (37.0,0.9),(37.015,1.05),(37.03,1.3),(37.045,1.2),(37.06,1.0),(37.075,1.15),(37.09,1.2),(37.105,1.1),(37.12,1.05),(37.135,1.3),(37.15,0.9),(37.165,0.9),(37.18,1.3),
    (36.715,0.2),(36.73,0.3),(36.75,0.15),(36.77,0.35),(36.79,0.2),(36.81,0.35),(36.83,0.25),(36.85,0.15),(36.87,0.5),(36.885,0.3),(36.9,0.6),(36.92,0.3),(36.94,0.2),(36.96,0.45),(36.98,0.3),(37.0,0.2),(37.02,0.35),(37.04,0.5),(37.06,0.3),(37.08,0.25),(37.1,0.4),(37.12,0.35),(37.14,0.3),(37.16,0.4),(37.18,0.4),
    (37.22,0.4),(37.24,0.3),(37.26,0.4),(37.28,0.25),(37.3,0.5),(37.32,0.8),(37.335,1.1),(37.35,0.9),(37.365,0.85),(37.38,0.9),(37.395,0.7),(37.41,0.5),(37.425,0.4),(37.44,0.3),(37.3,0.15),(37.33,0.3),(37.36,0.2),(37.39,0.2),(37.42,0.15),
    (37.448,1.93),(37.464,1.97),(37.48,2.0),(37.5,1.83),(37.524,1.93),(37.535,1.55),(37.558,1.66),(37.575,1.4),(37.589,1.5),(37.61,1.3),(37.63,1.4),(37.646,1.6),(37.66,1.4),(37.678,1.3),(37.695,1.15),(37.704,1.2),
    (37.455,1.5),(37.47,1.6),(37.49,1.35),(37.51,1.45),(37.525,1.3),(37.545,1.15),(37.565,1.0),(37.59,0.95),(37.615,0.95),(37.64,0.9),(37.665,0.9),(37.69,0.85),(37.71,0.9),
    (37.5,0.3),(37.515,0.2),(37.53,0.35),(37.545,0.25),(37.56,0.35),(37.575,0.3),(37.59,0.4),(37.605,0.3),(37.62,0.3),(37.635,0.35),(37.65,0.3),(37.665,0.25),(37.68,0.2),(37.695,0.25),(37.71,0.2),(37.46,0.2),(37.47,0.6),
]
F_EXTRA = [
    (36.72,0.6),(36.735,0.6),(36.75,0.5),(36.765,0.7),(36.775,0.2),(36.79,0.5),(36.805,0.2),(36.815,0.55),(36.825,0.3),(36.84,0.25),(36.855,0.7),(36.87,0.8),(36.88,0.5),(36.895,0.6),(36.905,0.4),(36.91,0.8),(36.925,0.6),(36.935,0.55),(36.95,0.6),
    (36.965,0.7),(36.97,0.3),(36.985,0.65),(36.995,0.5),(37.01,0.7),(37.025,0.65),(37.035,0.8),(37.05,0.75),(37.065,0.6),(37.075,0.7),(37.09,0.8),(37.1,0.8),(37.115,0.75),(37.13,0.75),(37.145,0.65),(37.16,0.65),(37.17,0.7),
    (37.29,0.8),(37.31,0.5),(37.325,0.5),(37.34,0.6),(37.355,0.55),(37.37,0.55),(37.385,0.55),(37.4,0.35),(37.415,0.3),(37.43,0.2),(37.45,0.5),(37.48,0.15),(37.5,1.2),(37.52,1.05),(37.54,0.9),(37.56,0.8),(37.58,1.1),(37.6,1.15),
    (37.62,1.2),(37.65,1.1),(37.67,1.15),(37.685,1.0),(37.7,1.0),(37.705,0.35),(37.69,0.4),(37.675,0.4),(37.645,0.2),(37.61,0.2),(37.58,0.2),(37.55,0.15),
]
F_GREY = [(37.216,6.2),(37.216,5.02),(37.203,3.2),(37.28,2.2),(37.395,1.1)]
F_RED = [(37.224,7.9),(37.221,7.65),(37.217,7.6),(37.222,7.45),(37.223,7.15)]
F_ORANGE = [(37.215,7.2),(37.21,6.1),(37.208,1.2),(37.204,0.88)]
F_GREEN = [(37.213,5.55),(37.215,5.27),(37.217,5.2),(37.185,2.02),(37.185,1.62),(37.191,1.5),(37.195,1.3)]
F_BLUE = [(37.209,2.56),(37.203,2.35),(37.208,2.25),(37.21,2.04),(37.193,0.1),(37.203,0.6),(37.229,1.0),(37.24,1.1),(37.25,1.2),(37.26,1.1),(37.271,1.3),(37.276,1.5),
          (37.245,0.85),(37.255,0.95),(37.265,0.85),(37.232,0.35),(37.198,1.7),(37.205,1.9)]
F_STARS = [(37.276,2.25),(36.942,1.3),(36.985,2.0),(37.3,0.7),(37.385,0.0),(37.5,1.3),(37.225,1.0)]
F_STAR_RED = [(37.211,7.67)]
F_LEAD = (37.21, 8.32)
F_RECOMB_X = [36.732,36.875,36.89,36.942,37.086,37.144,37.178,37.182,37.203,37.281,37.311,37.329,37.352,37.449]
F_RECOMB_Y = [28,49.8,28.8,22.9,24,38,15,35.5,23,73.5,22,27,30,57]
F_GENES = ['←MBIP','←SFTA3','PAX9→','←MIR4503','SLC25A21-AS1→','←NKX2-1','←SLC25A21','NKX2-1-AS1→','MIPOL1→','←NKX2-8']
F_GENE_LABEL_X = [36.78,36.963,37.141,37.422,37.631,36.989,37.396,36.99,37.665,37.05]
F_GENE_START = [36.768,36.943,37.128,37.422,37.643,36.987,37.148,36.99,37.667,37.051]
F_GENE_END = [36.791,36.985,37.148,37.422,37.643,36.987,37.643,36.99,37.711,37.051]
F_GENE_ROW = [0,0,0,0,0,1,1,2,2,3]
F_EXONS = [(36.768,0),(36.78,0),(36.787,0),(36.791,0),(36.943,0),(36.962,0),(36.985,0),(37.128,0),(37.135,0),(37.148,0),(37.422,0),(37.643,0),(36.987,1),(37.148,1),(37.152,1),(37.182,1),(37.198,1),(37.205,1),(37.285,1),(37.345,1),(37.643,1),
           (36.99,2),(37.667,2),(37.68,2),(37.69,2),(37.7,2),(37.051,3)]

LEGEND_COLORS = [RED, ORANGE, GREEN, BLUE, NAVY]
LEGEND_LABELS = ['0.8', '0.6', '0.4', '0.2']

# panel table: letter, chromosome, lead label + label height, then the arrays above
PANELS = [
    dict(letter='A', chrom='chr2', lead_name='chr2:109513601', lead_y=9.55, ticks=A_TICKS, ticklabels=A_TICKLABELS, yticks=A_YTICKS, navy=A_NAVY + A_EXTRA, grey=A_GREY,
         red=A_RED, orange=A_ORANGE, green=A_GREEN, blue=A_BLUE, stars=A_STARS, lead=A_LEAD, rx=A_RECOMB_X, ry=A_RECOMB_Y, genes=A_GENES, glx=A_GENE_LABEL_X,
         gs=A_GENE_START, ge=A_GENE_END, gr=A_GENE_ROW, exons=A_EXONS, lead_star=True),
    dict(letter='B', chrom='chr2', lead_name='rs6756973', lead_y=29.15, ticks=B_TICKS, ticklabels=B_TICKLABELS, yticks=B_YTICKS, navy=B_NAVY + B_EXTRA, grey=B_GREY,
         red=B_RED, orange=B_ORANGE, green=B_GREEN, blue=B_BLUE, stars=B_STARS, lead=B_LEAD, rx=B_RECOMB_X, ry=B_RECOMB_Y, genes=B_GENES, glx=B_GENE_LABEL_X,
         gs=B_GENE_START, ge=B_GENE_END, gr=B_GENE_ROW, exons=B_EXONS),
    dict(letter='C', chrom='chr3', lead_name='rs9866054', lead_y=12.9, ticks=C_TICKS, ticklabels=C_TICKLABELS, yticks=C_YTICKS, navy=C_NAVY + C_EXTRA, grey=C_GREY,
         red=C_RED, orange=C_ORANGE, green=C_GREEN, blue=C_BLUE, stars=C_STARS, star_green=C_STAR_GREEN, star_blue=C_STAR_BLUE, lead=C_LEAD, rx=C_RECOMB_X, ry=C_RECOMB_Y,
         genes=C_GENES, glx=C_GENE_LABEL_X, gs=C_GENE_START, ge=C_GENE_END, gr=C_GENE_ROW, exons=C_EXONS),
    dict(letter='D', chrom='chr6', lead_name='rs58122955', lead_y=14.3, ticks=D_TICKS, ticklabels=D_TICKLABELS, yticks=D_YTICKS, navy=D_NAVY + D_EXTRA, grey=D_GREY,
         red=D_RED, orange=D_ORANGE, green=D_GREEN, blue=D_BLUE, stars=D_STARS, star_red=D_STAR_RED, star_blue=D_STAR_BLUE, lead=D_LEAD, rx=D_RECOMB_X, ry=D_RECOMB_Y,
         genes=D_GENES, glx=D_GENE_LABEL_X, gs=D_GENE_START, ge=D_GENE_END, gr=D_GENE_ROW, exons=D_EXONS),
    dict(letter='E', chrom='chr10', lead_name='rs7096127', lead_y=8.05, ticks=E_TICKS, ticklabels=E_TICKLABELS, yticks=E_YTICKS, navy=E_NAVY + E_EXTRA, grey=E_GREY,
         red=E_RED, orange=E_ORANGE, green=E_GREEN, blue=E_BLUE, stars=E_STARS, star_red=E_STAR_RED, lead=E_LEAD, rx=E_RECOMB_X, ry=E_RECOMB_Y,
         genes=E_GENES, glx=E_GENE_LABEL_X, gs=E_GENE_START, ge=E_GENE_END, gr=E_GENE_ROW, exons=E_EXONS),
    dict(letter='F', chrom='chr14', lead_name='rs1950357', lead_y=8.8, ticks=F_TICKS, ticklabels=F_TICKLABELS, yticks=F_YTICKS, navy=F_NAVY + F_EXTRA, grey=F_GREY,
         red=F_RED, orange=F_ORANGE, green=F_GREEN, blue=F_BLUE, stars=F_STARS, star_red=F_STAR_RED, lead=F_LEAD, rx=F_RECOMB_X, ry=F_RECOMB_Y,
         genes=F_GENES, glx=F_GENE_LABEL_X, gs=F_GENE_START, ge=F_GENE_END, gr=F_GENE_ROW, exons=F_EXONS),
]

# layout in image pixels: box x0,x1,y0,y1; gene box y0,y1; x tick px pair; left y axis px for 0 and top tick;
# right y px for 100; legend top; letter pos
LAYOUT = {
    'A': dict(x0=27.3, x1=347.3, y0=17.7, y1=207.3, g0=215, g1=254, xp0=86.7, xp1=342.3, ly0=198.7, ly1=29.7, ry100=28.3, leg=23, let=(14, 7.5)),
    'B': dict(x0=408.7, x1=728.7, y0=19.3, y1=194.3, g0=202.3, g1=252.7, xp0=459, xp1=714.7, ly0=186.3, ly1=31.3, ry100=27.7, leg=23, let=(411.5, 7.5)),
    'C': dict(x0=27.3, x1=347.3, y0=301.3, y1=476, g0=484.3, g1=535, xp0=60, xp1=315.7, ly0=468.3, ly1=303.3, ry100=309.3, leg=304.3, let=(14, 284)),
    'D': dict(x0=408.7, x1=728.7, y0=301.3, y1=501, g0=510, g1=535, xp0=465.7, xp1=721.7, ly0=492.3, ly1=310.3, ry100=310.3, leg=304.3, let=(411.5, 284)),
    'E': dict(x0=27.3, x1=347.3, y0=593.7, y1=791, g0=799.3, g1=824.3, xp0=89.3, xp1=345.3, ly0=782, ly1=600, ry100=600, leg=594, let=(14, 578)),
    'F': dict(x0=408.7, x1=728.7, y0=593.7, y1=765.3, g0=773.3, g1=824.3, xp0=437.3, xp1=693.3, ly0=757.3, ly1=598.7, ry100=598.7, leg=594, let=(411.5, 578)),
}


def make_axes(fig, x0, x1, y0, y1):
    return fig.add_axes([x0 / W, 1 - y1 / H, (x1 - x0) / W, (y1 - y0) / H])


def data_lim(v0, p0, v1, p1, pa, pb):
    scale = (v1 - v0) / (p1 - p0)
    return v0 + (pa - p0) * scale, v0 + (pb - p0) * scale


def scatter_pts(ax, pts, color, z, edge='#3a3a3a', s=17):
    if pts:
        xs, ys = zip(*pts)
        ax.scatter(xs, ys, s=s, c=color, edgecolors=edge, linewidths=0.35, zorder=z)


def star_pts(ax, pts, color, z):
    if pts:
        xs, ys = zip(*pts)
        ax.scatter(xs, ys, s=28, c=color, marker=(8, 2, 0), linewidths=0.4, alpha=0.7, zorder=z)


fig = plt.figure(figsize=(W / 100, H / 100), dpi=100, facecolor='white')
page = fig.add_axes([0, 0, 1, 1], zorder=10)
page.set_xlim(0, W)
page.set_ylim(H, 0)
page.axis('off')
page.patch.set_visible(False)

for p in PANELS:
    lay = LAYOUT[p['letter']]
    xlim = data_lim(p['ticks'][0], lay['xp0'], p['ticks'][-1], lay['xp1'], lay['x0'], lay['x1'])

    ax = make_axes(fig, lay['x0'], lay['x1'], lay['y0'], lay['y1'])
    rec = ax.twinx()
    ax.set_zorder(rec.get_zorder() + 1)
    ax.patch.set_visible(False)
    ax.set_xlim(xlim)
    ax.set_ylim(data_lim(0, lay['ly0'], p['yticks'][-1], lay['ly1'], lay['y1'], lay['y0']))
    rec.set_ylim(data_lim(0, lay['ly0'], 100, lay['ry100'], lay['y1'], lay['y0']))

    # recombination rate
    rec.vlines(p['rx'], 0, p['ry'], color=RECOMB, lw=1.5, alpha=0.8)
    rec.axhline(0.2, color=RECOMB, lw=1.0, alpha=0.8)

    # association points
    scatter_pts(ax, p['navy'], NAVY, 3)
    scatter_pts(ax, p['grey'], GREY_PT, 4)
    star_pts(ax, p['stars'], '#4638a8', 5)
    star_pts(ax, p.get('star_green'), GREEN, 5)
    star_pts(ax, p.get('star_blue'), BLUE, 5)
    star_pts(ax, p.get('star_red'), '#e2504f', 5)
    scatter_pts(ax, p['blue'], BLUE, 6)
    scatter_pts(ax, p['green'], GREEN, 7)
    scatter_pts(ax, p['orange'], ORANGE, 8)
    scatter_pts(ax, p['red'], RED, 9)
    if p.get('lead_star'):
        star_pts(ax, [p['lead']], PURPLE, 10)
    else:
        scatter_pts(ax, [p['lead']], PURPLE, 10)
    ax.text(p['lead'][0], p['lead_y'], p['lead_name'], ha='center', va='center', fontsize=4.9, color='#222222', zorder=11)

    ax.set_xticks([])
    ax.set_yticks(p['yticks'])
    ax.tick_params(axis='y', length=4.7, width=0.6, color=AXIS_GREY, labelcolor=TEXT_GREY, labelsize=4.7, pad=1.2)
    ax.spines['left'].set_color(AXIS_GREY)
    ax.spines['bottom'].set_color(AXIS_GREY)
    ax.spines['top'].set_color('#cfcfcf')
    ax.spines['right'].set_visible(False)
    for side in ['left', 'bottom', 'top']:
        ax.spines[side].set_linewidth(0.9)

    rec.set_yticks([0, 20, 40, 60, 80, 100])
    rec.tick_params(axis='y', length=3.5, width=0.8, color=RECOMB, labelcolor='#6a5af0', labelsize=4.7, pad=2)
    rec.spines['right'].set_color(AXIS_GREY)
    rec.spines['right'].set_linewidth(0.9)
    for side in ['left', 'top', 'bottom']:
        rec.spines[side].set_visible(False)
    page.plot([lay['x1'], lay['x1']], [lay['ly0'], lay['ry100']], color=RECOMB, lw=1.0, solid_capstyle='butt')

    # gene track
    gax = make_axes(fig, lay['x0'], lay['x1'], lay['g0'], lay['g1'])
    gax.set_xlim(xlim)
    gax.set_ylim(lay['g1'] - lay['g0'], 0)
    gax.set_yticks([])
    gax.set_xticks(p['ticks'])
    gax.set_xticklabels(p['ticklabels'])
    gax.tick_params(axis='x', length=1.5, width=0.5, color=AXIS_GREY, labelcolor=TEXT_GREY, labelsize=4.6, pad=4.2)
    gax.set_xlabel('Position on ' + p['chrom'] + ' (Mb)', fontsize=4.7, color=TEXT_GREY, labelpad=2.7)
    for side in gax.spines.values():
        side.set_color(AXIS_GREY)
        side.set_linewidth(0.8)
    for name, lx, s, e, r in zip(p['genes'], p['glx'], p['gs'], p['ge'], p['gr']):
        gax.text(lx, 4.8 + 12.7 * r, name, ha='center', va='center', fontsize=4.1, style='italic', color='#333333', clip_on=True)
        gax.plot([s, e], [9.3 + 12.7 * r] * 2, color='#6a5ad0', lw=0.6, solid_capstyle='butt')
    ex, er = zip(*p['exons'])
    gax.vlines(ex, [8.0 + 12.7 * r for r in er], [10.6 + 12.7 * r for r in er], color='#1b0f8a', lw=0.8)

    # axis titles
    mid = (lay['y0'] + lay['y1']) / 2
    page.text(lay['x0'] - 22.5, mid, r'$-$log$_{10}$(p$-$value)', rotation=90, ha='center', va='center', fontsize=4.9, color=TEXT_GREY)
    page.text(lay['x1'] + 22.8, mid, 'Recombination rate (cM/Mb)', rotation=270, ha='center', va='center', fontsize=5.0, color='#6a5af0')

    # r2 legend
    lx0 = lay['x0'] + 3.4
    top = lay['leg']
    page.add_patch(Rectangle((lx0, top), 26.6, 64.3, facecolor='white', edgecolor=AXIS_GREY, lw=0.9, zorder=20))
    for i, color in enumerate(LEGEND_COLORS):
        page.add_patch(Rectangle((lx0 + 3.4, top + 11 + i * 10), 6.6, 10, facecolor=color, edgecolor='none', zorder=21))
    for i, lab in enumerate(LEGEND_LABELS):
        yy = top + 21 + i * 10
        page.plot([lx0 + 3.4, lx0 + 13], [yy, yy], color='#777777', lw=0.4, zorder=22)
        page.text(lx0 + 15, yy, lab, ha='left', va='center', fontsize=4.2, color='#666666', zorder=22)
    page.text(lx0 + 13.4, top + 5.6, r'r$^{2}$', ha='center', va='center', fontsize=5, color='#555555', zorder=22)

    page.text(lay['let'][0], lay['let'][1], p['letter'], ha='left', va='center', fontsize=9, fontweight='bold', color='black')

fig.savefig('out.png', dpi=100)
plt.close()
